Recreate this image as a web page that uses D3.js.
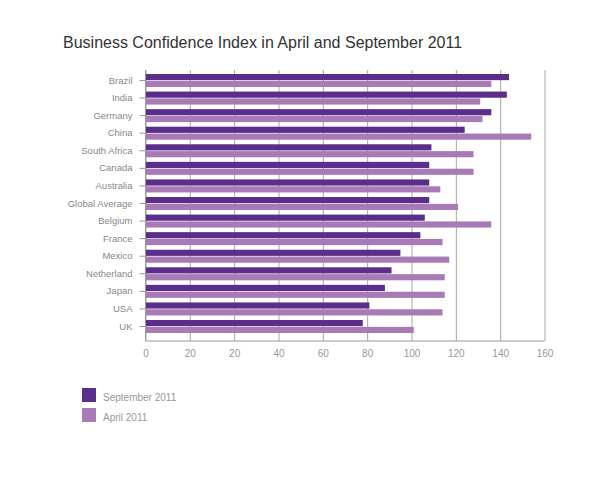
<!DOCTYPE html>
<html>
<head>
<meta charset="utf-8">
<script src="https://cdn.jsdelivr.net/npm/d3@7"></script>
<style>
  body { margin: 0; background: #fff; }
  text { font-family: "Liberation Sans", Arial, sans-serif; }
</style>
</head>
<body>
<div id="container"></div>
<script>
/* DATA */
const countries = ["Brazil", "India", "Germany", "China", "South Africa", "Canada", "Australia",
  "Global Average", "Belgium", "France", "Mexico", "Netherland", "Japan", "USA", "UK"];
const sep2011 = [144, 143, 136, 124, 109, 108, 108, 108, 106, 104, 95, 91, 88, 81, 78];
const apr2011 = [136, 131, 132, 154, 128, 128, 113, 121, 136, 114, 117, 115, 115, 114, 101];
// the source axis reads "0, 20, 20, 40 ..." - kept as printed
const tickLabels = ["0", "20", "20", "40", "60", "80", "100", "120", "140", "160"];
const seriesNames = ["September 2011", "April 2011"];
const seriesColors = ["#5c2e8b", "#a87bb7"];

/* CONSTANTS */
const width = 608,
  height = 480,
  plot = { top: 70, bottom: 341, left: 145.5, right: 544.5 };

const rows = countries.map((c, i) => ({ country: c, values: [sep2011[i], apr2011[i]] }));

/* SCALES */
const xScale = d3.scaleLinear()
  .domain([-20, 160]) // first gridline is the bar origin
  .range([plot.left, plot.right]);

const yScale = d3.scaleBand()
  .domain(countries)
  .range([71.7, 335.3])
  .paddingInner(0.26)
  .paddingOuter(0.13);

const ySub = d3.scaleBand()
  .domain([0, 1])
  .range([0, yScale.bandwidth()])
  .paddingInner(0.1);

/* SVG */
const svg = d3.select("#container")
  .append("svg")
  .attr("width", width)
  .attr("height", height);

// title
svg.append("text")
  .attr("x", 63)
  .attr("y", 48)
  .attr("font-size", 16)
  .attr("fill", "#333")
  .text("Business Confidence Index in April and September 2011");

// gridlines + bottom labels
const xAxis = d3.axisBottom(xScale)
  .tickValues(d3.range(-20, 161, 20))
  .tickFormat((d, i) => tickLabels[i])
  .tickSize(-(plot.bottom - plot.top))
  .tickPadding(9);

const gx = svg.append("g")
  .attr("transform", `translate(0,${plot.bottom})`)
  .call(xAxis);
gx.select(".domain").remove();
gx.selectAll(".tick line").attr("stroke", "#a8a8a8");
gx.selectAll(".tick text")
  .attr("fill", "#999")
  .attr("font-size", 10)
  .style("font-family", "'Liberation Sans', Arial, sans-serif");

// bars
const group = svg.selectAll("g.row")
  .data(rows)
  .join("g")
  .attr("class", "row")
  .attr("transform", d => `translate(0,${yScale(d.country)})`);

group.selectAll("rect")
  .data(d => d.values)
  .join("rect")
  .attr("x", xScale(-20))
  .attr("y", (d, i) => ySub(i))
  .attr("width", d => xScale(d) - xScale(-20))
  .attr("height", ySub.bandwidth())
  .attr("fill", (d, i) => seriesColors[i]);

// axis lines
svg.append("line")
  .attr("x1", plot.left).attr("x2", plot.left)
  .attr("y1", plot.top).attr("y2", plot.bottom)
  .attr("stroke", "#999");
svg.append("line")
  .attr("x1", plot.left).attr("x2", plot.right)
  .attr("y1", plot.bottom).attr("y2", plot.bottom)
  .attr("stroke", "#999");

// category labels
const yAxis = d3.axisLeft(yScale)
  .tickSize(6)
  .tickPadding(7);
const gy = svg.append("g")
  .attr("transform", `translate(${plot.left},0)`)
  .call(yAxis);
gy.select(".domain").remove();
gy.selectAll(".tick line").attr("stroke", "#999");
gy.selectAll(".tick text")
  .attr("fill", "#888")
  .attr("font-size", 9.5)
  .style("font-family", "'Liberation Sans', Arial, sans-serif");

/* LEGEND */
const legend = svg.selectAll("g.legend")
  .data(seriesNames)
  .join("g")
  .attr("class", "legend")
  .attr("transform", (d, i) => `translate(82,${388 + i * 20})`);

legend.append("rect")
  .attr("width", 14)
  .attr("height", 14)
  .attr("fill", (d, i) => seriesColors[i]);

legend.append("text")
  .attr("x", 21)
  .attr("y", 13)
  .attr("font-size", 10)
  .attr("fill", "#999")
  .text(d => d);
</script>
</body>
</html>
